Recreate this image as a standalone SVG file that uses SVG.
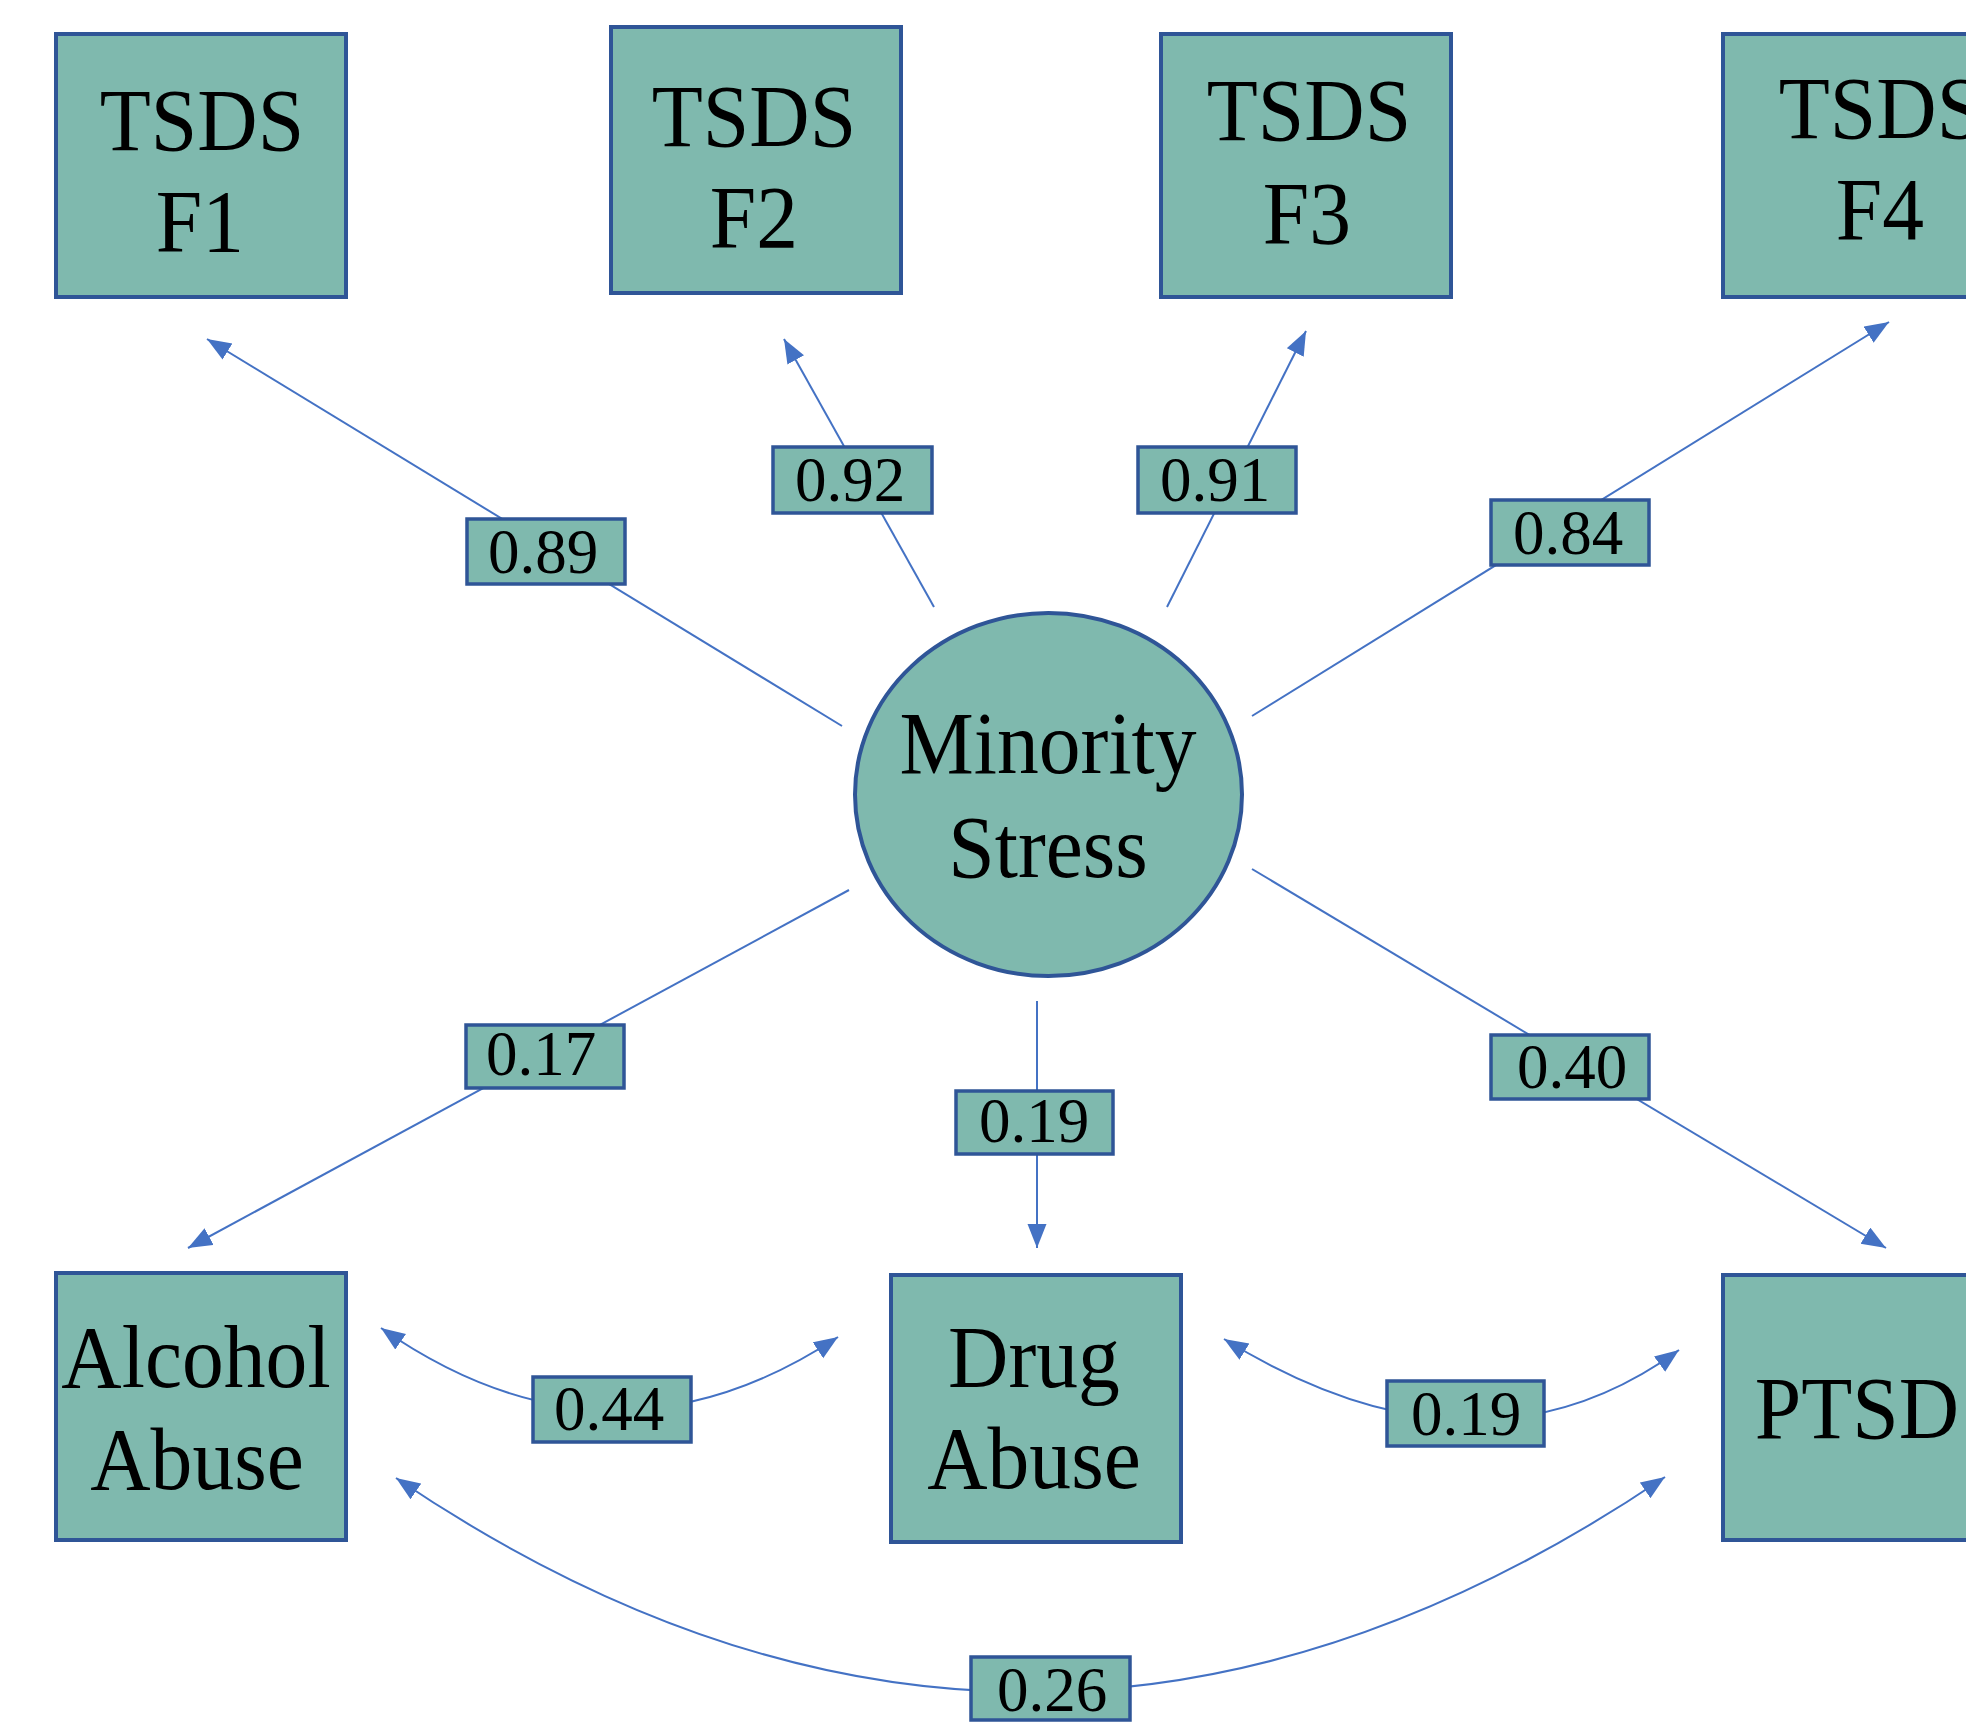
<svg xmlns="http://www.w3.org/2000/svg" width="1966" height="1722" viewBox="0 0 1966 1722">
<style>
.node{fill:#7FB9AE;stroke:#2F5597;stroke-width:4}
.lbl{fill:#7FB9AE;stroke:#2F5597;stroke-width:3.5}
.nt{font-family:"Liberation Serif","Times New Roman",serif;font-size:88px;fill:#000;text-anchor:middle}
.lt{font-family:"Liberation Serif","Times New Roman",serif;font-size:63px;fill:#000;text-anchor:middle}
.edge{fill:none;stroke:#4472C4;stroke-width:2}
</style>
<defs>
<marker id="arr" markerUnits="userSpaceOnUse" markerWidth="26" markerHeight="20" refX="24" refY="9.5" orient="auto-start-reverse" viewBox="0 0 26 20">
<path d="M0,0 L24,9.5 L0,19 z" fill="#4472C4"/>
</marker>
</defs>
<rect width="1966" height="1722" fill="#fff"/>
<g id="connectors">
<line class="edge" x1="842" y1="726" x2="207" y2="339" marker-end="url(#arr)"/>
<line class="edge" x1="934" y1="607" x2="784" y2="339" marker-end="url(#arr)"/>
<line class="edge" x1="1167" y1="607" x2="1306" y2="331" marker-end="url(#arr)"/>
<line class="edge" x1="1252" y1="716" x2="1889" y2="322" marker-end="url(#arr)"/>
<line class="edge" x1="849" y1="890" x2="188" y2="1248" marker-end="url(#arr)"/>
<line class="edge" x1="1037" y1="1001" x2="1037" y2="1248" marker-end="url(#arr)"/>
<line class="edge" x1="1252" y1="869" x2="1886" y2="1248" marker-end="url(#arr)"/>
<path class="edge" d="M381,1328 Q609.5,1487.5 838,1337" marker-start="url(#arr)" marker-end="url(#arr)"/>
<path class="edge" d="M1224,1339 Q1478.7,1495.4 1679,1350" marker-start="url(#arr)" marker-end="url(#arr)"/>
<path class="edge" d="M396,1478 Q1029.5,1906.5 1665,1477" marker-start="url(#arr)" marker-end="url(#arr)"/>
</g>
<g id="f1"><rect class="node" x="56" y="34" width="290" height="263"/><g transform="scale(0.95,1)"><text class="nt" x="212.6" y="150">TSDS</text><text class="nt" x="210.5" y="251">F1</text></g></g>
<g id="f2"><rect class="node" x="611" y="27" width="290" height="266"/><g transform="scale(0.95,1)"><text class="nt" x="793.7" y="146">TSDS</text><text class="nt" x="793.7" y="247">F2</text></g></g>
<g id="f3"><rect class="node" x="1161" y="34" width="290" height="263"/><g transform="scale(0.95,1)"><text class="nt" x="1377.9" y="140">TSDS</text><text class="nt" x="1375.8" y="243">F3</text></g></g>
<g id="f4"><rect class="node" x="1723" y="34" width="300" height="263"/><g transform="scale(0.95,1)"><text class="nt" x="1980" y="138">TSDS</text><text class="nt" x="1978.9" y="239">F4</text></g></g>
<g id="minority"><ellipse class="node" cx="1048.5" cy="794.5" rx="193.5" ry="181.5"/><g transform="scale(0.95,1)"><text class="nt" x="1103.2" y="773">Minority</text><text class="nt" x="1103.2" y="877">Stress</text></g></g>
<g id="alcohol"><rect class="node" x="56" y="1273" width="290" height="267"/><g transform="scale(0.95,1)"><text class="nt" x="206.3" y="1387">Alcohol</text><text class="nt" x="207.4" y="1489">Abuse</text></g></g>
<g id="drug"><rect class="node" x="891" y="1275" width="290" height="267"/><g transform="scale(0.95,1)"><text class="nt" x="1088.4" y="1387">Drug</text><text class="nt" x="1088.4" y="1488">Abuse</text></g></g>
<g id="ptsd"><rect class="node" x="1723" y="1275" width="300" height="265"/><g transform="scale(0.95,1)"><text class="nt" x="1954.7" y="1438">PTSD</text></g></g>
<g id="labels">
<g id="l089"><rect class="lbl" x="467" y="519" width="158" height="65"/><text class="lt" x="543" y="573">0.89</text></g>
<g id="l092"><rect class="lbl" x="773" y="447" width="159" height="66"/><text class="lt" x="850" y="501">0.92</text></g>
<g id="l091"><rect class="lbl" x="1138" y="447" width="158" height="66"/><text class="lt" x="1215" y="501">0.91</text></g>
<g id="l084"><rect class="lbl" x="1491" y="500" width="158" height="65"/><text class="lt" x="1568" y="554">0.84</text></g>
<g id="l017"><rect class="lbl" x="466" y="1025" width="158" height="63"/><text class="lt" x="541" y="1075">0.17</text></g>
<g id="l019a"><rect class="lbl" x="956" y="1091" width="157" height="63"/><text class="lt" x="1034" y="1142">0.19</text></g>
<g id="l040"><rect class="lbl" x="1491" y="1035" width="158" height="64"/><text class="lt" x="1572" y="1088">0.40</text></g>
<g id="l044"><rect class="lbl" x="533" y="1377" width="158" height="65"/><text class="lt" x="609" y="1430">0.44</text></g>
<g id="l019b"><rect class="lbl" x="1387" y="1381" width="157" height="65"/><text class="lt" x="1466" y="1435">0.19</text></g>
<g id="l026"><rect class="lbl" x="971" y="1657" width="159" height="63"/><text class="lt" x="1052" y="1711">0.26</text></g>
</g>
</svg>
